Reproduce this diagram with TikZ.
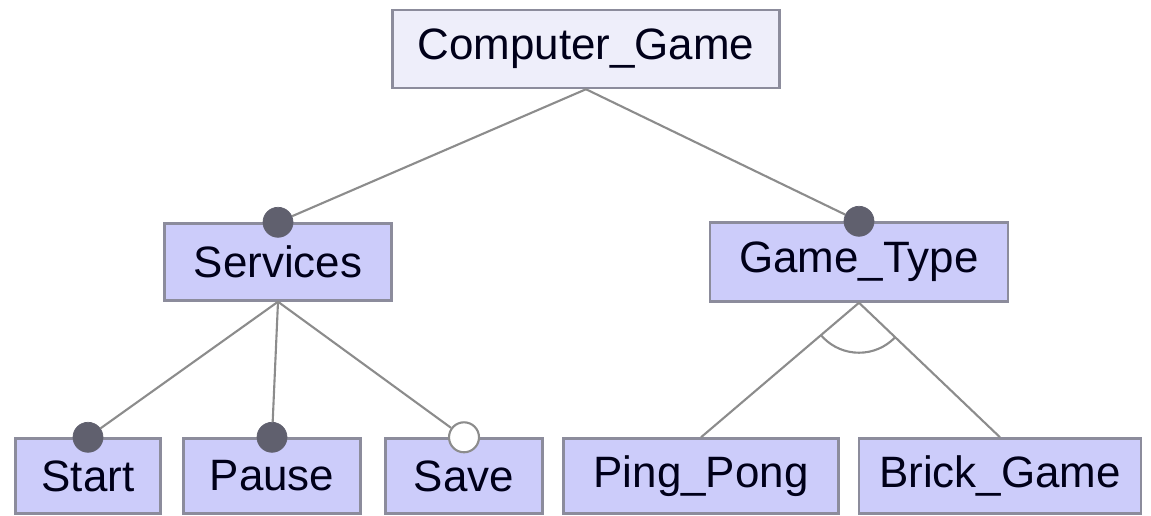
\documentclass[tikz,border=0pt]{standalone}
\usepackage{fontspec}
\setsansfont{Liberation Sans}
\definecolor{featfill}{RGB}{204, 204, 250}
\definecolor{rootfill}{RGB}{238, 238, 250}
\definecolor{featline}{RGB}{140, 140, 156}
\definecolor{dotgray}{RGB}{96, 96, 110}
\usetikzlibrary{positioning, calc}

\begin{document}
\begin{tikzpicture}[x=0.02cm, y=-0.02cm,
  fbox/.style={draw=featline, line width=1.4pt, fill=featfill, inner sep=0pt, minimum height=1.5cm, font=\sffamily\fontsize{25}{30}\selectfont, text=black!90!blue},
  link/.style={draw=gray!90, line width=1.2pt},
  mandot/.style={circle, fill=dotgray, draw=dotgray, inner sep=0pt, minimum size=0.6cm},
  optdot/.style={circle, fill=white, draw=gray!90, line width=1.2pt, inner sep=0pt, minimum size=0.6cm}
]
  \useasboundingbox (0,0) rectangle (1151,515);

  % features
  \node[fbox, fill=rootfill, minimum width=7.74cm, minimum height=1.56cm] (game) at (586,49) {Computer\_Game};
  \node[fbox, minimum width=4.54cm, minimum height=1.54cm] (serv) at (278,262) {Services};
  \node[fbox, minimum width=5.96cm, minimum height=1.58cm] (type) at (859,262) {Game\_Type};
  \node[fbox, minimum width=2.9cm] (start) at (88,476) {Start};
  \node[fbox, minimum width=3.54cm] (pause) at (272,476) {Pause};
  \node[fbox, minimum width=3.14cm] (save) at (464,476) {Save};
  \node[fbox, minimum width=5.5cm] (ping) at (701,476) {Ping\_Pong};
  \node[fbox, minimum width=5.64cm] (brick) at (1000,476) {Brick\_Game};

  % mandatory / optional markers
  \node[mandot] (servdot) at (serv.north) {};
  \node[mandot] (typedot) at (type.north) {};
  \node[mandot] (startdot) at (start.north) {};
  \node[mandot] (pausedot) at (pause.north) {};
  \node[optdot] (savedot) at (save.north) {};

  \draw[link] (game.south) -- (servdot);
  \draw[link] (game.south) -- (typedot);
  \draw[link] (serv.south) -- (startdot);
  \draw[link] (serv.south) -- (pausedot);
  \draw[link] (serv.south) -- (savedot);
  \draw[link] (type.south) -- (ping.north);
  \draw[link] (type.south) -- (brick.north);

  % alternative group arc
  \begin{scope}
    \clip (type.south) -- (ping.north) -- (brick.north) -- cycle;
    \draw[link] (type.south) circle (1cm);
  \end{scope}
\end{tikzpicture}
\end{document}
